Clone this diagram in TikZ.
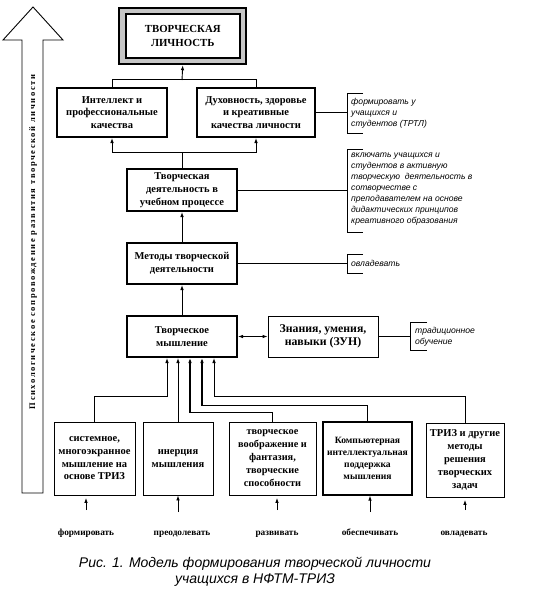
\documentclass[tikz,border=0pt]{standalone}
\usepackage{fontspec}
\setmainfont{Liberation Serif}
\setsansfont{Liberation Sans}
\newfontfamily\spacedfont[LetterSpace=19]{Liberation Serif}
\usetikzlibrary{arrows.meta,calc}
\begin{document}
\begin{tikzpicture}[x=1pt,y=-1pt,
  box/.style={draw, line width=2pt, align=center, inner sep=0pt,
    font=\bfseries\fontsize{10.5}{12.7}\selectfont},
  thinbox/.style={box, line width=0.9pt},
  note/.style={anchor=west, align=left, inner sep=0pt,
    font=\sffamily\itshape\fontsize{8.6}{11}\selectfont},
  lbl/.style={inner sep=0pt, anchor=base, font=\bfseries\fontsize{9.3}{10}\selectfont},
  arr/.style={-{Latex[length=5pt,width=3.6pt]}, line width=0.9pt},
  conn/.style={line width=0.9pt},
  brk/.style={line width=1pt}]
\useasboundingbox (0,0) rectangle (536,592);

% big left arrow
\draw[line width=0.9pt] (22,493) -- (22,40) -- (3,40) -- (33,7) -- (63,40) -- (43,40) -- (43,493) -- cycle;
\node[rotate=90, inner sep=0pt, font=\spacedfont\bfseries\fontsize{8.5}{9}\selectfont] (vt) at (33,242)
  {Психологическое сопровождение развития творческой личности};

% top box
\node[draw, line width=2pt, double=gray!45, double distance=4.5pt,
      minimum width=120.5pt, minimum height=50pt, outer sep=4.25pt,
      align=center, inner sep=0pt, font=\bfseries\fontsize{10.8}{13.5}\selectfont] (T) at (182.75,36)
  {ТВОРЧЕСКАЯ\\ЛИЧНОСТЬ};

\node[box, minimum width=110pt, minimum height=49pt] (I) at (112,112.5)
  {Интеллект и\\профессиональные\\качества};
\node[box, minimum width=118pt, minimum height=49pt] (D) at (256,112.5)
  {Духовность, здоровье\\и креативные\\качества личности};
\node[box, minimum width=110pt, minimum height=42pt] (td) at (182,190)
  {Творческая\\деятельность в\\учебном процессе};
\node[box, minimum width=110pt, minimum height=41pt] (M) at (182,263.5)
  {Методы творческой\\деятельности};
\node[box, minimum width=110pt, minimum height=41pt] (TM) at (182,336.5)
  {Творческое\\мышление};
\node[thinbox, minimum width=110pt, minimum height=41pt, font=\bfseries\fontsize{11.8}{13}\selectfont] (Z) at (323,336.5)
  {Знания, умения,\\навыки (ЗУН)};

% bottom boxes
\node[thinbox, minimum width=81pt, minimum height=73pt] (b1) at (94.5,458.5)
  {системное,\\многоэкранное\\мышление на\\основе ТРИЗ};
\node[thinbox, minimum width=70pt, minimum height=73pt] (b2) at (178,458.5)
  {инерция\\мышления};
\node[thinbox, minimum width=87pt, minimum height=73pt, font=\bfseries\fontsize{10.3}{13}\selectfont] (b3) at (272.5,458.5)
  {творческое\\воображение и\\фантазия,\\творческие\\способности};
\node[thinbox, line width=1.2pt, minimum width=89pt, minimum height=73pt, font=\bfseries\fontsize{9.6}{12}\selectfont] (b4) at (367.5,458.5)
  {Компьютерная\\интеллектуальная\\поддержка\\мышления};
\node[thinbox, minimum width=78pt, minimum height=74pt, font=\bfseries\fontsize{10.5}{13}\selectfont] (b5) at (465,460)
  {ТРИЗ и другие\\методы\\решения\\творческих\\задач};

% upper connectors
\coordinate (jt) at (182,80);
\draw[conn] (I.north) -- ++(0,-8) -| (D.north);
\draw[arr] (jt) -- (T.south);
\draw[conn] (td.north) -- ++(0,-16) coordinate (jb);
\draw[arr] (jb) -| (I.south);
\draw[arr] (jb) -| (D.south);
\draw[arr] (M.north) -- (td.south);
\draw[arr] (TM.north) -- (M.south);
\draw[{Latex[length=5pt,width=3.6pt]}-{Latex[length=5pt,width=3.6pt]}, line width=0.9pt] (TM.east) -- (Z.west);

% brackets and notes
\coordinate (br1) at (347,112.5);
\draw[conn] (D.east) -- (br1);
\draw[brk] (363,93) -- (347,93) -- (347,133) -- (363,133);
\node[note] (n1) at (351,113.5) {формировать у\\учащихся и\\студентов (ТРТЛ)};

\coordinate (br2) at (347,190);
\draw[conn] (td.east) -- (br2);
\draw[brk] (363,149) -- (347,149) -- (347,232) -- (363,232);
\node[note] (n2) at (351,189.5) {включать учащихся и\\студентов в активную\\творческую\ \ деятельность в\\сотворчестве с\\преподавателем на основе\\дидактических принципов\\креативного образования};

\coordinate (br3) at (347,263.5);
\draw[conn] (M.east) -- (br3);
\draw[brk] (363,254) -- (347,254) -- (347,273) -- (363,273);
\node[note] (n3) at (351,263.5) {овладевать};

\coordinate (br4) at (410,336.5);
\draw[conn] (Z.east) -- (br4);
\draw[brk] (427,322) -- (410,322) -- (410,350) -- (427,350);
\node[note] (n4) at (415,337) {традиционное\\обучение};

% lower connectors into TM
\draw[arr] (b1.north) -- ++(0,-25) -| ([xshift=-15pt]TM.south);
\draw[arr] (b2.north) -- (b2.north |- TM.south);
\draw[arr, line width=1.8pt] (b3.north) -- ++(0,-9) -| ([xshift=8pt]TM.south);
\draw[arr, line width=1.4pt] (b4.north) -- ++(0,-16) -| ([xshift=20pt]TM.south);
\draw[arr] (b5.north) -- ++(0,-26) -| ([xshift=32pt]TM.south);

% small arrows below
\coordinate (c1) at (86,510);
\coordinate (c2) at (178,512);
\coordinate (c3) at (277,510);
\coordinate (c4) at (370,512);
\coordinate (c5) at (465,510);
\draw[arr, shorten >=2.5pt] (c1) -- (c1 |- b1.south);
\draw[arr] (c2) -- (b2.south);
\draw[arr, shorten >=2.5pt] (c3) -- (c3 |- b3.south);
\draw[arr] (c4) -- (c4 |- b4.south);
\draw[arr, shorten >=2.5pt] (c5) -- (b5.south);

% labels
\node[lbl] (l1) at (86,535) {формировать};
\node[lbl] (l2) at (182,535) {преодолевать};
\node[lbl] (l3) at (277,535) {развивать};
\node[lbl] (l4) at (370,535) {обеспечивать};
\node[lbl] (l5) at (464,535) {овладевать};

% caption
\node[inner sep=0pt, align=center, font=\sffamily\itshape\fontsize{14}{16}\selectfont] (cap) at (255,571.5)
  {Рис. 1. Модель формирования творческой личности\\учащихся в НФТМ-ТРИЗ};
\end{tikzpicture}
\end{document}
